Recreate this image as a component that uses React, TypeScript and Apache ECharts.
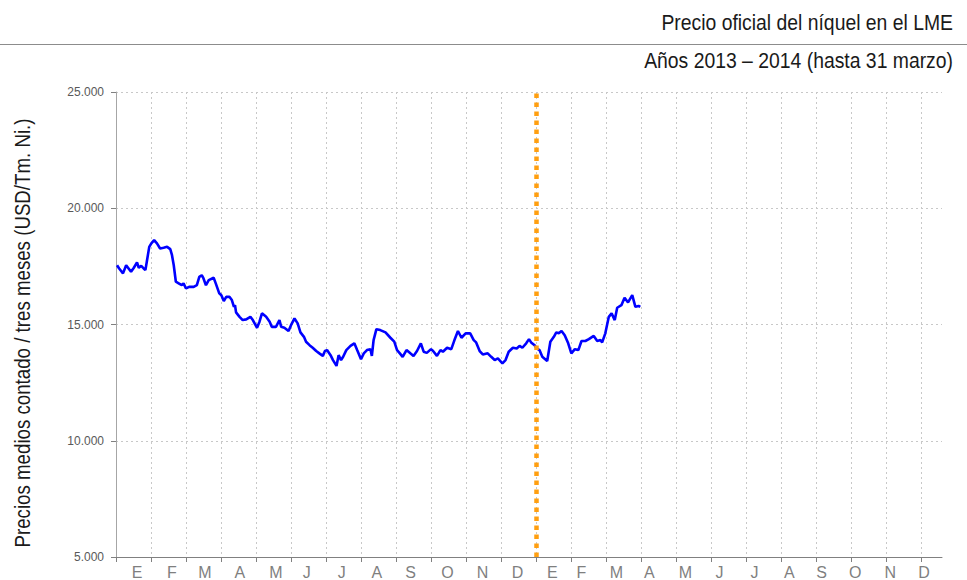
import React, { useEffect, useRef } from "react";
import * as echarts from "echarts";

const titleText = "Precio oficial del níquel en el LME";
const subtitleText = "Años 2013 – 2014 (hasta 31 marzo)";
const yAxisTitle = "Precios medios contado / tres meses (USD/Tm. Ni.)";

const monthLetters = ["E","F","M","A","M","J","J","A","S","O","N","D","E","F","M","A","M","J","J","A","S","O","N","D"];
const yTicks = [5000, 10000, 15000, 20000, 25000];

// x position in months since 1 Jan 2013
const monthPos = [
  0.03,0.09,0.20,0.29,0.36,0.43,0.51,0.60,0.65,0.72,0.79,0.84,0.88,0.95,1.01,1.09,1.17,1.26,1.36,1.46,
  1.55,1.60,1.65,1.71,1.79,1.88,1.93,2.00,2.09,2.22,2.31,2.38,2.45,2.50,2.57,2.65,2.79,2.85,2.95,
  3.01,3.08,3.15,3.24,3.31,3.37,3.40,3.43,3.53,3.62,3.72,3.84,3.91,4.03,4.10,4.17,4.29,4.39,4.45,4.57,
  4.67,4.72,4.81,4.93,5.00,5.10,5.19,5.27,5.37,5.43,5.53,5.62,5.72,5.81,5.91,5.97,
  6.03,6.13,6.20,6.30,6.36,6.43,6.49,6.58,6.70,6.81,6.89,7.00,7.08,7.17,7.27,7.31,7.36,7.44,7.55,7.70,
  7.84,7.95,8.03,8.11,8.19,8.30,8.41,8.50,8.60,8.71,8.79,8.88,9.00,
  9.06,9.17,9.27,9.34,9.46,9.58,9.67,9.77,9.87,9.99,10.12,10.22,10.29,10.39,10.48,10.62,10.72,10.82,10.91,11.04,
  11.13,11.22,11.34,11.45,11.53,11.61,11.72,11.80,11.86,11.96,12.02,
  12.10,12.18,12.32,12.41,12.51,12.58,12.65,12.73,12.82,12.92,13.01,13.11,13.21,13.30,13.41,13.51,13.65,13.75,13.84,13.89,
  13.98,14.08,14.16,14.25,14.32,14.44,14.53,14.63,14.75,14.84,14.93,14.98
];

const prices = [
  17550,17410,17200,17550,17410,17265,17440,17670,17440,17520,17410,17340,17700,18340,18490,18630,18490,18270,18300,18340,
  18240,17980,17550,16840,16770,16690,16770,16550,16620,16620,16690,17050,17120,16980,16690,16910,17010,16770,16340,
  16260,16010,16190,16190,16050,15760,15830,15520,15330,15190,15220,15330,15190,14860,15120,15480,15330,15120,14900,14900,
  15190,14900,14860,14720,14970,15260,15050,14660,14470,14260,14110,14000,13860,13760,13650,13860,
  13900,13680,13470,13220,13680,13470,13610,13900,14080,14190,13900,13510,13760,13900,13940,13650,14330,14800,14760,14660,
  14430,14260,13900,13760,13610,13900,13760,13650,13860,14190,13830,13780,13940,
  13860,13650,13900,13830,14000,13940,14330,14720,14430,14620,14620,14330,14230,13860,13710,13760,13610,13470,13540,13330,
  13470,13830,14000,13970,14080,14000,14190,14370,14230,14110,13970,
  13900,13610,13430,14260,14470,14660,14620,14720,14540,14190,13760,13940,13900,14290,14290,14370,14510,14290,14330,14230,
  14620,15330,15480,15190,15720,15830,16150,15950,16260,15760,15800,15760
];

const yearBoundary = 12;

// layout: where each month letter sits on the axis (in month units)
const labelPos = [0.60,1.60,2.54,3.54,4.57,5.45,6.45,7.45,8.42,9.47,10.47,11.47,12.47,13.30,14.30,15.24,16.27,17.24,18.24,19.24,20.16,21.12,22.12,23.09];
const monthTicks = Array.from({ length: 24 }, (_, i) => i);

const sans = "'Liberation Sans', Arial, sans-serif";

export default function App() {
  const ref = useRef<HTMLDivElement>(null);
  useEffect(() => {
    if (!ref.current) return;
    const chart = echarts.init(ref.current, undefined, { renderer: "svg" });
    const data = monthPos.map((m, i) => [m, prices[i]]);
    chart.setOption({
      animation: false,
      backgroundColor: "#ffffff",
      grid: { left: 116, right: 25, top: 92, bottom: 23, containLabel: false },
      xAxis: {
        type: "value",
        min: 0,
        max: 23.6,
        axisLine: { show: true, lineStyle: { color: "#808080", width: 1 } },
        axisTick: { show: true, customValues: monthTicks, length: 5, lineStyle: { color: "#808080" } },
        splitLine: { show: true, lineStyle: { color: "#C8C8C8", type: [2, 3], width: 1 } },
        axisLabel: {
          customValues: labelPos,
          margin: 7,
          color: "#7F7F7F",
          fontFamily: sans,
          fontSize: 16,
          formatter: (v: number) => {
            let best = 0;
            let bd = 1e9;
            labelPos.forEach((p, i) => {
              const d = Math.abs(p - v);
              if (d < bd) { bd = d; best = i; }
            });
            return monthLetters[best];
          },
        },
      },
      yAxis: {
        type: "value",
        min: 5000,
        max: 25000,
        interval: 5000,
        axisLine: { show: true, lineStyle: { color: "#A6A6A6", width: 1 } },
        axisTick: { show: true, length: 5, lineStyle: { color: "#808080" } },
        splitLine: { show: true, lineStyle: { color: "#C8C8C8", type: [2, 3], width: 1 } },
        axisLabel: {
          margin: 12,
          color: "#595959",
          fontFamily: sans,
          fontSize: 12,
          formatter: (v: number) => {
            const i = yTicks.indexOf(v);
            const val = i >= 0 ? yTicks[i] : v;
            return val.toString().replace(/\B(?=(\d{3})+(?!\d))/g, ".");
          },
        },
      },
      series: [
        {
          type: "line",
          data,
          showSymbol: false,
          symbol: "none",
          lineStyle: { color: "#0000FF", width: 2.6 },
          itemStyle: { color: "#0000FF" },
          silent: true,
          markLine: {
            silent: true,
            symbol: ["none", "none"],
            label: { show: false },
            lineStyle: { color: "#FF9F10", width: 4.5, type: [4.5, 4.5] },
            data: [{ xAxis: yearBoundary }],
          },
        },
      ],
      graphic: [
        {
          type: "text",
          x: 953,
          y: 22,
          scaleX: 0.88,
          style: { text: titleText, fill: "#1A1A1A", font: `22px ${sans}`, align: "right", verticalAlign: "middle" },
        },
        {
          type: "line",
          shape: { x1: 0, y1: 44.5, x2: 967, y2: 44.5 },
          style: { stroke: "#8C8C8C", lineWidth: 1 },
        },
        {
          type: "text",
          x: 953,
          y: 60,
          scaleX: 0.88,
          style: { text: subtitleText, fill: "#1A1A1A", font: `22px ${sans}`, align: "right", verticalAlign: "middle" },
        },
        {
          type: "text",
          x: 22,
          y: 333,
          rotation: Math.PI / 2,
          scaleX: 0.85,
          style: {
            text: yAxisTitle,
            fill: "#1A1A1A",
            font: `22px ${sans}`,
            align: "center",
            verticalAlign: "middle",
          },
        },
      ],
    });
    return () => chart.dispose();
  }, []);
  return (
    <div
      ref={ref}
      style={{ position: "absolute", left: 0, top: 0, width: 967, height: 580, background: "#fff" }}
    />
  );
}
